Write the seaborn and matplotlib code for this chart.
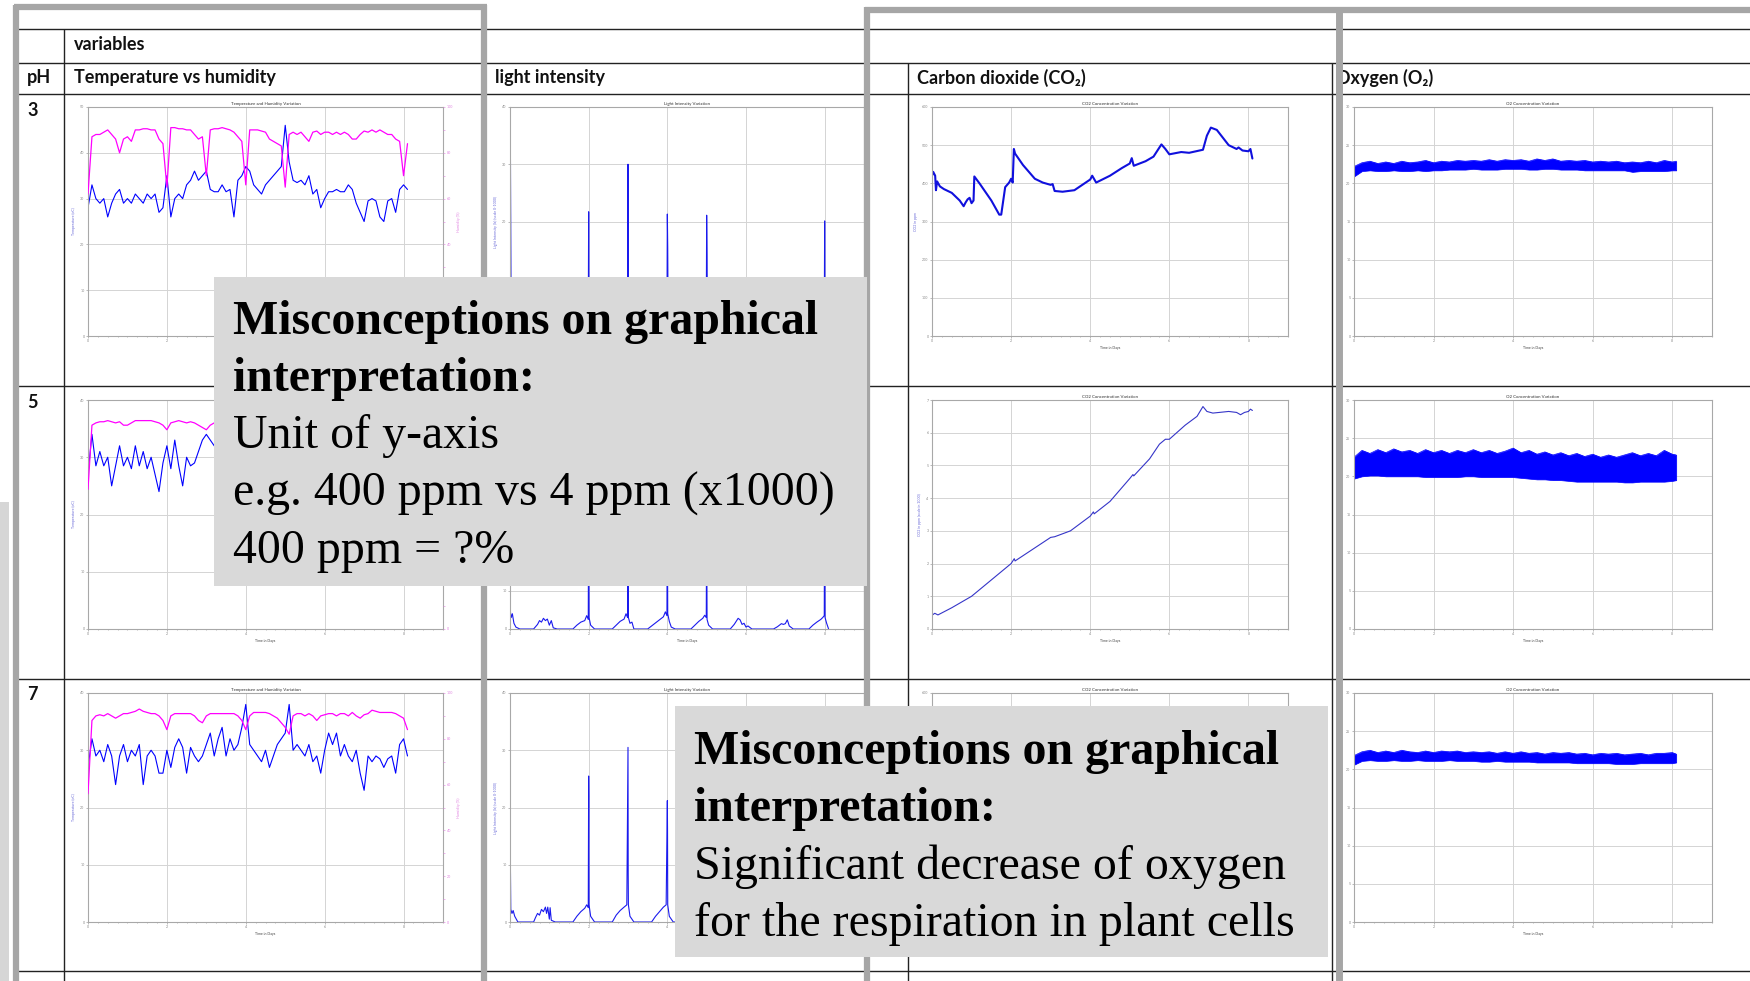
import numpy as np
import matplotlib
matplotlib.use("Agg")
import matplotlib.pyplot as plt
import seaborn as sns
from matplotlib.patches import Rectangle
from matplotlib.lines import Line2D
from matplotlib.ticker import MultipleLocator

# ---------------- data ----------------
days = np.linspace(0, 8.1, 82)          # sampling grid, 0.1 day
o2_days = np.append(np.linspace(0, 8.0, 41), 8.1)  # sampling grid, 0.2 day

temp_ph3 = [28, 33, 30, 29, 30, 26, 29, 31, 32, 29,
            30, 29, 31, 30, 29, 31, 30, 31, 27, 28,
            35, 26, 30, 31, 30, 33, 34, 36, 34, 35,
            36, 32, 31.5, 31.5, 33, 31.5, 32, 26, 34, 35,
            37, 36, 33, 32, 31, 33, 34, 35, 36, 37,
            46, 38, 34, 33.5, 34, 33, 35, 31, 32, 28,
            30, 31.5, 31.5, 32, 31.5, 31.5, 33, 32, 29, 27,
            25, 29.5, 30, 29.5, 26, 25, 29.5, 30, 27, 32,
            33, 32]
hum_ph3 = [62, 87, 88, 88, 89, 90, 88, 86, 80, 86,
           87, 85, 90, 90, 90.5, 90.5, 90, 90, 86, 84,
           65, 91, 91, 90.5, 90.5, 90, 90, 88, 86, 87,
           70, 90, 90.5, 90.5, 91, 90.5, 90, 89, 87, 85,
           66, 90, 90, 90, 89.5, 89, 86, 85, 84, 83,
           65, 88, 89, 88, 89, 87, 85, 89, 89.5, 88,
           89, 89, 88, 89, 88, 89, 88, 86, 86, 88,
           89.5, 89, 90, 89, 90, 89, 88, 88, 86, 85,
           70, 84]
temp_ph5 = [27, 34, 28.5, 31, 28.5, 30, 25, 28.5, 32, 28.5,
            30, 28, 32, 28.5, 31, 28, 30, 27, 24, 29,
            32, 28, 33, 28.5, 25, 30, 28.5, 29, 31, 33,
            34, 33, 32, 31, 33, 32, 31, 30, 32, 33,
            35, 31, 30, 29, 30, 31, 29, 30, 32, 33,
            36, 31, 30, 29, 30, 28, 29, 30, 27, 29,
            30, 31, 29, 30, 29, 28, 30, 29, 27, 25,
            27, 29, 28, 29, 28, 27, 29, 28, 27, 31,
            32, 30]
hum_ph5 = [61, 89, 90, 90.5, 90.5, 91, 90.5, 90, 90.5, 89,
           89, 90, 91, 91, 91, 91, 91, 90.5, 90, 89,
           87, 90, 90.5, 91, 90.5, 90, 90.5, 90, 89, 88,
           87, 89, 90, 90.5, 91, 90.5, 90, 89, 88, 86,
           84, 90, 90.5, 91, 90.5, 90, 89, 88, 87, 86,
           84, 89, 90, 90.5, 90, 90, 89, 89, 88, 89,
           90, 90.5, 90, 90, 90.5, 90, 89.5, 89, 88, 89,
           90, 90.5, 90.5, 90, 90, 90, 89.5, 89, 88, 87,
           84, 88]
temp_ph7 = [27, 32, 29, 30, 28, 31, 29, 24, 29, 31,
            28, 30, 29, 31, 24, 29, 30, 29, 26, 26,
            30, 27, 30.5, 32, 30.5, 26, 30.5, 29, 28, 29,
            31, 33, 29, 32, 34, 29, 32, 30, 31, 34,
            38, 31, 30, 29, 28, 30, 27, 29, 31, 32,
            33, 38, 30, 31, 30, 29, 31, 28, 29, 26,
            30, 33, 31, 33, 29, 31, 29, 28, 30, 26,
            23, 29, 28, 29, 28.5, 27, 28.5, 29, 26, 31,
            32, 29]
hum_ph7 = [56, 88, 90, 90.5, 90, 91, 90, 89, 90, 91,
           91, 91.5, 92, 93, 92, 91.5, 91, 91, 90, 88,
           84, 90, 91, 91, 91, 91, 91, 90, 88, 87,
           90, 91, 91, 91, 91, 91, 91, 91, 90, 88,
           84, 90, 91.5, 91.5, 91.5, 91.5, 91, 90, 89, 87,
           85, 82, 90, 91, 91, 90, 91, 90, 88, 90,
           90.5, 91, 91, 90, 91, 91, 90, 91.5, 90, 89,
           90.5, 91, 92.5, 92, 91.5, 91.5, 91.5, 91.5, 91, 90,
           89, 84]

light_ph3 = [(0, 5), (0.01, 33), (0.03, 2), (0.1, 2), (0.2, 0), (0.6, 0), (0.8, 2), (0.95, 2.5),
             (1.0, 2), (1.1, 0), (1.6, 0), (1.8, 2), (1.95, 3), (1.99, 3), (2.0, 21.7), (2.01, 3),
             (2.03, 2), (2.1, 0), (2.6, 0), (2.8, 2), (2.95, 3), (2.99, 3), (3.0, 30), (3.01, 3),
             (3.03, 2), (3.1, 0), (3.6, 0), (3.8, 2), (3.95, 3), (3.99, 3), (4.0, 21.3), (4.01, 15.4),
             (4.02, 3), (4.03, 2), (4.1, 0), (4.6, 0), (4.8, 2), (4.95, 3), (4.99, 3), (5.0, 21.1),
             (5.01, 13.9), (5.02, 3), (5.03, 2), (5.1, 0), (5.6, 0), (5.8, 2.5), (5.95, 2), (6.05, 0),
             (6.6, 0), (6.8, 2), (6.95, 2), (7.05, 0), (7.6, 0), (7.8, 2), (7.95, 3), (7.99, 3),
             (8.0, 20.1), (8.01, 3), (8.03, 2), (8.1, 0)]
light_ph5 = [(0, 0), (0.01, 4.5), (0.03, 3), (0.06, 4), (0.1, 1.5), (0.15, 0.5), (0.25, 0), (0.6, 0),
             (0.7, 1.2), (0.75, 2.2), (0.8, 1.8), (0.85, 2.8), (0.9, 2.2), (0.95, 2.6), (1.0, 1.0),
             (1.05, 2.2), (1.1, 0.3), (1.2, 0), (1.6, 0), (1.7, 1.0), (1.8, 1.8), (1.9, 2.2),
             (1.95, 3.5), (1.99, 2.5), (2.0, 40), (2.01, 3), (2.05, 1), (2.15, 0), (2.6, 0), (2.7, 1),
             (2.8, 2), (2.9, 2.6), (2.95, 4), (2.99, 3), (3.0, 50), (3.01, 3), (3.05, 1.5), (3.1, 1.8),
             (3.15, 0), (3.5, 0), (3.6, 0.8), (3.7, 1.6), (3.8, 2.4), (3.9, 3.2), (3.95, 4.5),
             (3.99, 3.5), (4.0, 35), (4.01, 4), (4.05, 2), (4.1, 0.5), (4.2, 0), (4.6, 0), (4.7, 1),
             (4.8, 2), (4.9, 2.8), (4.95, 3.6), (4.99, 3), (5.0, 30), (5.01, 2.5), (5.05, 1),
             (5.15, 0), (5.6, 0), (5.7, 1.2), (5.8, 2.8), (5.85, 2.4), (5.9, 1.2), (5.95, 1.5),
             (6.0, 0.5), (6.05, 0.8), (6.15, 0), (6.7, 0), (6.8, 0.6), (6.9, 1.4), (6.95, 1.2),
             (7.0, 1.4), (7.05, 2.4), (7.1, 0.8), (7.2, 0), (7.6, 0), (7.7, 1), (7.8, 1.8), (7.9, 2.5),
             (7.95, 3), (7.99, 3.5), (8.0, 45), (8.01, 3), (8.05, 1.5), (8.1, 0)]
light_ph7 = [(0, 0), (0.005, 33), (0.01, 10), (0.02, 2.2), (0.05, 1.5), (0.08, 2), (0.12, 1), (0.2, 0),
             (0.6, 0), (0.65, 0.8), (0.7, 1.5), (0.75, 1.2), (0.8, 2.2), (0.85, 1.8), (0.9, 2.6),
             (0.93, 1.5), (0.96, 2.6), (1.0, 0.5), (1.02, 2.5), (1.05, 0.3), (1.15, 0), (1.6, 0),
             (1.7, 1), (1.8, 1.8), (1.9, 2.4), (1.95, 3), (1.99, 2.5), (2.0, 25.5), (2.005, 22),
             (2.01, 3), (2.05, 1), (2.15, 0), (2.6, 0), (2.7, 1.2), (2.8, 2), (2.9, 2.6), (2.97, 3),
             (3.0, 30.5), (3.005, 8.5), (3.01, 3), (3.05, 1), (3.15, 0), (3.6, 0), (3.7, 1), (3.8, 1.8),
             (3.9, 2.6), (3.97, 3), (4.0, 21.2), (4.005, 16), (4.01, 3), (4.05, 1), (4.15, 0), (4.6, 0),
             (4.8, 2), (4.99, 3), (5.0, 20), (5.05, 1), (5.15, 0), (5.6, 0), (5.8, 2.5), (6.1, 0),
             (6.7, 0), (6.95, 2), (7.2, 0), (7.6, 0), (7.95, 3), (8.0, 20), (8.05, 1), (8.15, 0)]

co2_ph3 = [(0, 420), (0.03, 430), (0.08, 420), (0.1, 382), (0.13, 405), (0.2, 392), (0.3, 385),
           (0.5, 375), (0.7, 355), (0.8, 340), (0.85, 350), (0.9, 358), (0.95, 362), (1.0, 348),
           (1.05, 355), (1.07, 418), (1.2, 400), (1.5, 355), (1.7, 318), (1.75, 318), (1.85, 390),
           (1.95, 402), (2.0, 412), (2.04, 402), (2.07, 490), (2.1, 478), (2.3, 448), (2.6, 412),
           (2.8, 402), (3.0, 396), (3.05, 398), (3.1, 380), (3.3, 378), (3.6, 382), (3.8, 396),
           (4.0, 410), (4.05, 420), (4.15, 402), (4.5, 420), (4.8, 440), (5.0, 452), (5.05, 466),
           (5.1, 446), (5.4, 458), (5.6, 470), (5.8, 502), (5.9, 490), (6.0, 476), (6.3, 482),
           (6.5, 480), (6.85, 488), (6.95, 525), (7.05, 546), (7.2, 540), (7.5, 500), (7.7, 490),
           (7.75, 494), (7.85, 486), (8.0, 484), (8.05, 490), (8.1, 465)]
co2_ph5 = [(0, 0.42), (0.07, 0.48), (0.15, 0.43), (0.5, 0.65), (1.0, 1.0), (1.5, 1.5), (2.0, 2.0),
           (2.08, 2.15), (2.1, 2.08), (2.5, 2.4), (3.0, 2.8), (3.1, 2.82), (3.5, 3.0), (4.0, 3.45),
           (4.08, 3.58), (4.1, 3.52), (4.5, 3.9), (5.0, 4.6), (5.08, 4.72), (5.1, 4.68), (5.5, 5.2),
           (5.75, 5.65), (5.9, 5.8), (6.0, 5.8), (6.4, 6.23), (6.7, 6.5), (6.85, 6.8), (6.95, 6.65),
           (7.1, 6.6), (7.5, 6.65), (7.7, 6.62), (7.8, 6.55), (7.9, 6.62), (8.0, 6.65), (8.05, 6.72),
           (8.1, 6.68)]
co2_ph7 = [(0, 430), (0.5, 410), (1.0, 400), (2.0, 420), (3.0, 440), (4.0, 450), (5.0, 470),
           (6.0, 480), (7.0, 500), (8.1, 490)]

o2_lo_ph3 = [20.9, 21.6, 21.7, 21.6, 21.6, 21.7, 21.6, 21.6, 21.7, 21.6, 21.7, 21.7, 21.8, 21.8,
             21.8, 21.9, 21.8, 21.8, 21.8, 21.9, 21.9, 21.9, 21.8, 21.8, 21.9, 21.9, 21.8, 21.8,
             21.8, 21.7, 21.7, 21.7, 21.7, 21.7, 21.7, 21.5, 21.6, 21.6, 21.6, 21.6, 21.7, 21.7]
o2_hi_ph3 = [22.2, 22.7, 22.9, 22.6, 22.8, 22.6, 22.9, 22.7, 22.8, 23.0, 22.7, 22.9, 22.8, 23.0,
             22.9, 23.0, 22.9, 23.1, 22.9, 23.1, 23.0, 23.1, 22.9, 23.2, 23.0, 23.2, 22.9, 23.0,
             22.9, 23.0, 22.8, 22.9, 22.8, 22.9, 22.7, 22.8, 22.7, 22.9, 22.7, 23.0, 22.8, 22.9]
o2_lo_ph5 = [19.7, 20.0, 20.1, 20.1, 20.0, 20.0, 20.0, 20.0, 20.0, 19.9, 19.9, 19.9, 19.9, 19.9,
             20.0, 20.0, 19.9, 19.9, 19.9, 19.9, 19.9, 19.8, 19.7, 19.6, 19.6, 19.5, 19.5, 19.4,
             19.3, 19.3, 19.3, 19.3, 19.3, 19.3, 19.2, 19.2, 19.3, 19.3, 19.3, 19.3, 19.4, 19.5]
o2_hi_ph5 = [22.5, 23.4, 23.0, 23.5, 23.1, 23.6, 23.2, 23.4, 23.0, 23.5, 23.1, 23.4, 23.0, 23.4,
             23.1, 23.5, 23.1, 23.4, 23.0, 23.3, 23.7, 23.1, 23.4, 22.9, 23.2, 22.8, 23.1, 22.7,
             23.0, 22.6, 22.9, 22.5, 22.8, 22.5, 22.8, 23.1, 22.7, 23.0, 22.7, 23.4, 22.9, 22.8]
o2_lo_ph7 = [20.6, 21.1, 21.2, 21.1, 21.1, 21.2, 21.1, 21.1, 21.2, 21.1, 21.1, 21.1, 21.2, 21.1,
             21.1, 21.1, 21.0, 21.0, 21.1, 21.0, 21.0, 21.0, 21.0, 20.9, 20.9, 20.9, 20.9, 20.9,
             20.8, 20.8, 20.8, 20.8, 20.8, 20.7, 20.7, 20.7, 20.8, 20.8, 20.8, 20.8, 20.8, 20.9]
o2_hi_ph7 = [21.8, 22.3, 22.5, 22.2, 22.4, 22.2, 22.5, 22.3, 22.2, 22.4, 22.2, 22.4, 22.3, 22.4,
             22.2, 22.3, 22.2, 22.3, 22.1, 22.3, 22.1, 22.3, 22.1, 22.2, 22.0, 22.2, 22.1, 22.2,
             22.0, 22.1, 21.9, 22.1, 22.0, 22.1, 21.9, 22.0, 22.1, 21.9, 22.1, 22.1, 22.2, 22.0]

headers = ["Temperature vs humidity", "light intensity", "Carbon dioxide (CO\u2082)", "Oxygen (O\u2082)"]
ph_labels = ["3", "5", "7"]
box1_lines = ["Misconceptions on graphical", "interpretation:", "Unit of y-axis",
              "e.g. 400 ppm vs 4 ppm (x1000)", "400 ppm = ?%"]
box2_lines = ["Misconceptions on graphical", "interpretation:",
              "Significant decrease of oxygen", "for the respiration in plant cells"]

# ---------------- figure ----------------
sns.set_theme(style="whitegrid")
plt.rcParams["font.family"] = ["Lato", "DejaVu Sans"]

W, H = 1750, 981
fig = plt.figure(figsize=(17.5, 9.81), dpi=100)
fig.patch.set_facecolor("white")


def fx(x):
    return x / W


def fy(y):
    return 1 - y / H


def add_axes_px(x0, y0, x1, y1):
    return fig.add_axes([fx(x0), fy(y1), (x1 - x0) / W, (y1 - y0) / H])


BLUE = "#0000ff"
PINK = "#ff00ff"
LABC = "#6a6ad8"
all_axes = []


def style(ax, ymax, ystep, title, ylabel, yminor=None):
    ax.set_facecolor("white")
    ax.set_xlim(0, 9)
    ax.set_ylim(0, ymax)
    ax.set_xticks([0, 2, 4, 6, 8])
    ax.xaxis.set_minor_locator(MultipleLocator(0.25))
    ax.yaxis.set_major_locator(MultipleLocator(ystep))
    if yminor:
        ax.yaxis.set_minor_locator(MultipleLocator(yminor))
    ax.grid(True, which="major", color="#d4d4d4", linewidth=0.7)
    ax.grid(False, which="minor")
    ax.tick_params(which="both", labelsize=2.6, colors="#888888", length=1.5, width=0.4, pad=1,
                   bottom=True, left=True)
    ax.tick_params(which="minor", length=1.0)
    for s in ax.spines.values():
        s.set_color("#a8a8a8")
        s.set_linewidth(0.8)
    ax.set_title(title, fontsize=3.2, pad=1.5, color="#333333")
    ax.set_ylabel(ylabel, fontsize=2.6, color=LABC, labelpad=3)
    ax.set_xlabel("Time in Days", fontsize=2.6, color="#444444", labelpad=1.5)
    all_axes.append(ax)


rows_y = [(107, 336), (400, 629), (693, 922)]
temps = [temp_ph3, temp_ph5, temp_ph7]
hums = [hum_ph3, hum_ph5, hum_ph7]
temp_max = [50, 40, 40]
lights = [light_ph3, light_ph5, light_ph7]
light_max = [40, 60, 40]
co2s = [co2_ph3, co2_ph5, co2_ph7]
co2_max = [600, 7, 600]
co2_step = [100, 1, 100]
co2_lab = ["CO2 in ppm", "CO2 in ppm (scale in 1000)", "CO2 in ppm"]
o2_lo = [o2_lo_ph3, o2_lo_ph5, o2_lo_ph7]
o2_hi = [o2_hi_ph3, o2_hi_ph5, o2_hi_ph7]

for i, (y0, y1) in enumerate(rows_y):
    # temperature + humidity
    ax = add_axes_px(88, y0, 443, y1)
    sns.lineplot(x=days, y=temps[i], ax=ax, color=BLUE, linewidth=0.8, estimator=None, sort=False)
    style(ax, temp_max[i], 10, "Temperature and Humidity Variation", "Temperature (oC)")
    ax2 = ax.twinx()
    sns.lineplot(x=days, y=hums[i], ax=ax2, color=PINK, linewidth=0.9, estimator=None, sort=False)
    ax2.set_ylim(0, 100)
    ax2.yaxis.set_major_locator(MultipleLocator(20))
    ax2.yaxis.set_minor_locator(MultipleLocator(10))
    ax2.grid(False)
    ax2.tick_params(which="both", labelsize=2.6, colors="#e080e0", length=1.5, width=0.4, pad=1, right=True)
    ax2.set_ylabel("Humidity (%)", fontsize=2.6, color="#e080e0", labelpad=3)
    for s in ax2.spines.values():
        s.set_visible(False)
    all_axes.append(ax2)

    # light
    ax = add_axes_px(510, y0, 864, y1)
    lt, lv = zip(*lights[i])
    sns.lineplot(x=list(lt), y=list(lv), ax=ax, color="#1a1aee", linewidth=0.8, estimator=None, sort=False)
    style(ax, light_max[i], 10, "Light Intensity Variation", "Light Intensity (lx) (scale 0-1000)")

    # co2
    ax = add_axes_px(932, y0, 1288, y1)
    ct, cv = zip(*co2s[i])
    sns.lineplot(x=list(ct), y=list(cv), ax=ax, color="#1010dd" if i != 1 else "#3535c8",
                 linewidth=1.5 if i != 1 else 0.8, estimator=None, sort=False)
    style(ax, co2_max[i], co2_step[i], "CO2 Concentration Variation", co2_lab[i])

    # o2
    ax = add_axes_px(1354, y0, 1712, y1)
    ax.fill_between(o2_days, o2_lo[i], o2_hi[i], color=BLUE, linewidth=0.5, edgecolor=BLUE)
    sns.lineplot(x=o2_days, y=o2_hi[i], ax=ax, color=BLUE, linewidth=0.5, estimator=None, sort=False)
    style(ax, 30, 5, "O2 Concentration Variation", "O2 in percent")

# ---------------- table lines ----------------
def hline(y, x0, x1, color="#222222", lw=1.0, z=3):
    fig.add_artist(Line2D([fx(x0), fx(x1)], [fy(y), fy(y)], color=color, lw=lw, zorder=z,
                          solid_capstyle="butt"))


def vline(x, y0, y1, color="#222222", lw=1.0, z=3):
    fig.add_artist(Line2D([fx(x), fx(x)], [fy(y0), fy(y1)], color=color, lw=lw, zorder=z,
                          solid_capstyle="butt"))


for y in [29, 62.5, 94, 386, 678.5, 971]:
    hline(y, 15, 1750)
vline(64, 29, 981)
vline(908, 62.5, 981)
vline(1332, 62.5, 981)

GRAY = "#a6a6a6"
vline(16, 5, 981, GRAY, 4.5, 4)
hline(7, 14, 487, GRAY, 4.5, 4)
vline(484, 5, 981, GRAY, 4.5, 4)
vline(867, 7, 981, GRAY, 4.5, 4)
hline(9.5, 865, 1750, GRAY, 4.5, 4)
vline(1339, 7, 981, GRAY, 5.0, 4)
fig.add_artist(Rectangle((0, fy(981)), fx(9), (981 - 502) / H, transform=fig.transFigure,
                         facecolor="#d6d6d6", edgecolor="none", zorder=4))

# ---------------- header text ----------------
hdr = dict(fontsize=13, fontweight="bold", color="#111111", va="center", ha="left",
           family=["Lato", "DejaVu Sans"], zorder=5)
fig.text(fx(74), fy(45), "variables", **hdr)
fig.text(fx(27), fy(78), "pH", **hdr)
for hx, h in zip([74, 495, 917, 1336], headers):
    fig.text(fx(hx), fy(78), h, **hdr)
for ry, lab in zip([110, 402, 694], ph_labels):
    fig.text(fx(27), fy(ry), lab, **hdr)
vline(1339, 62, 94, GRAY, 5.0, 6)

# ---------------- overlay boxes ----------------
boxes_px = [(214, 277, 867, 586), (675, 706, 1328, 957)]
for (bx0, by0, bx1, by1) in boxes_px:
    fig.add_artist(Rectangle((fx(bx0), fy(by1)), (bx1 - bx0) / W, (by1 - by0) / H,
                             transform=fig.transFigure, facecolor="#d9d9d9", edgecolor="none",
                             zorder=7))

serif = ["Liberation Serif", "DejaVu Serif"]
for k, (line, by) in enumerate(zip(box1_lines, [334, 391, 448.5, 506, 563])):
    fig.text(fx(233), fy(by), line, fontsize=34.5, family=serif, va="baseline", ha="left",
             fontweight="bold" if k < 2 else "normal", color="black", zorder=8)
for k, (line, by) in enumerate(zip(box2_lines, [764, 821, 879, 936])):
    fig.text(fx(694), fy(by), line, fontsize=34.5, family=serif, va="baseline", ha="left",
             fontweight="bold" if k < 2 else "normal", color="black", zorder=8)

# hide chart texts that lie completely under the overlay boxes (they are covered anyway)
fig.canvas.draw()
renderer = fig.canvas.get_renderer()
for ax in all_axes:
    texts = list(ax.get_xticklabels()) + list(ax.get_yticklabels()) + \
        [ax.title, ax.xaxis.label, ax.yaxis.label]
    for t in texts:
        if not t.get_visible() or not t.get_text():
            continue
        bb = t.get_window_extent(renderer)
        for (bx0, by0, bx1, by1) in boxes_px:
            if bb.x0 >= bx0 - 1 and bb.x1 <= bx1 + 1 and bb.y0 >= H - by1 - 1 and bb.y1 <= H - by0 + 1:
                t.set_visible(False)
                break

fig.savefig("out.png", dpi=100, facecolor="white")
